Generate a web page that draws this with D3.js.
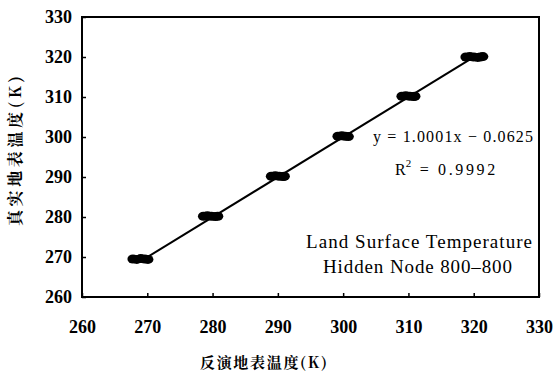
<!DOCTYPE html>
<html>
<head>
	<title>LST retrieval scatter</title>
	<script src="https://d3js.org/d3.v7.min.js"></script>
</head>
<body style="margin:0">
	<div class="chart"></div>
	<script>
		// retrieved (x) vs true (y) land surface temperature, K
		const retrievedT = [267.8,268.4,269.0,269.6,270.1,
		                    278.6,279.2,279.8,280.4,280.8,
		                    289.0,289.6,290.2,290.8,291.0,
		                    299.2,299.8,300.3,300.8,
		                    309.0,309.6,310.2,310.8,311.0,
		                    318.8,319.4,320.0,320.6,321.0,321.4];
		const trueT      = [269.5,269.4,269.6,269.5,269.4,
		                    280.2,280.3,280.2,280.1,280.2,
		                    290.2,290.3,290.2,290.1,290.2,
		                    300.2,300.3,300.2,300.1,
		                    310.2,310.3,310.2,310.1,310.2,
		                    320.0,320.1,320.0,319.9,320.0,320.1];
		const nominalT = [270,280,290,300,310,320];
		const xTicks = [260,270,280,290,300,310,320,330];
		const yTicks = [260,270,280,290,300,310,320,330];
		const slope = 1.0001, intercept = -0.0625;
		const fitLabel = 'y = 1.0001x \u2212 0.0625';
		const r2Value = '0.9992';
		const noteLines = ['Land Surface Temperature','Hidden Node 800\u2013800'];

		const serifFont = '"Liberation Serif"';
		const cjkFont = '"Noto Serif CJK SC"';

		const W = 557, H = 376;
		const svg = d3.select('.chart').append('svg').attr('width',W).attr('height',H)

		let x = d3.scaleLinear().domain([260,330]).range([82,539])
		let y = d3.scaleLinear().domain([260,330]).range([297,17])

		// frame
		svg.append('rect').attr('x',x(260)).attr('y',y(330))
			.attr('width',x(330)-x(260)).attr('height',y(260)-y(330))
			.attr('fill','none').attr('stroke','#000').attr('stroke-width',2)

		var x_axis = d3.axisBottom(x).tickValues(xTicks).tickSizeInner(-4).tickSizeOuter(0)
		var y_axis = d3.axisLeft(y).tickValues(yTicks).tickSizeInner(-4).tickSizeOuter(0).tickPadding(10)

		const gx = svg.append('g').attr('transform',`translate(0,${y(260)})`).call(x_axis)
		const gy = svg.append('g').attr('transform',`translate(${x(260)},0)`).call(y_axis)
		svg.selectAll('.domain').remove()
		gx.attr('font-family',serifFont).attr('font-size',18)
		gy.attr('font-family',serifFont).attr('font-size',18)
		svg.selectAll('.tick line').attr('stroke','#000').attr('stroke-width',1.5)
		svg.selectAll('.tick text').style('font-family',serifFont).style('font-weight','bold').attr('fill','#000')
		gx.selectAll('.tick text').attr('dy','0.35em').attr('y',30)

		// fit line
		const xs = d3.extent(nominalT)
		svg.append('line')
			.attr('x1',x(xs[0])).attr('y1',y(slope*xs[0]+intercept))
			.attr('x2',x(xs[1])).attr('y2',y(slope*xs[1]+intercept))
			.attr('stroke','#000').attr('stroke-width',2)

		// points
		svg.append('g').selectAll('ellipse')
			.data(retrievedT)
			.join('ellipse')
			.attr('cx',(d)=>x(d))
			.attr('cy',(d,i)=>y(trueT[i]))
			.attr('rx',5.5).attr('ry',4.5)
			.attr('fill','#000')

		// equation
		svg.append('text').attr('x',373).attr('y',142).style('font-family',serifFont).style('font-size','16px')
			.attr('textLength',160).attr('lengthAdjust','spacing').text(fitLabel)
		const r2 = svg.append('text').attr('x',395).attr('y',175).style('font-family',serifFont).style('font-size','16px')
		r2.append('tspan').text('R')
		r2.append('tspan').style('font-size','11px').attr('dy',-8).text('2')
		r2.append('tspan').attr('dy',8).attr('dx',2).attr('textLength',82).attr('lengthAdjust','spacing').text(' = ' + r2Value)

		// note
		svg.selectAll('.note').data(noteLines).join('text')
			.attr('class','note')
			.attr('x',(d,i)=> i==0 ? 306 : 323)
			.attr('y',(d,i)=> 248 + i*25)
			.style('font-family',serifFont).style('font-size','19px')
			.attr('textLength',(d,i)=> i==0 ? 226 : 189)
			.attr('lengthAdjust','spacing')
			.text(d=>d)

		// axis titles
		svg.append('text').attr('x',200).attr('y',368)
			.style('font-family',cjkFont).style('font-weight','bold').style('font-size','15px')
			.attr('textLength',127).attr('lengthAdjust','spacing')
			.text('反演地表温度(K)')
		svg.append('text')
			.attr('transform','translate(21,226) rotate(-90)')
			.style('font-family',cjkFont).style('font-weight','bold').style('font-size','16px')
			.attr('textLength',150).attr('lengthAdjust','spacing')
			.text('真实地表温度(K)')
	</script>
</body>
</html>
